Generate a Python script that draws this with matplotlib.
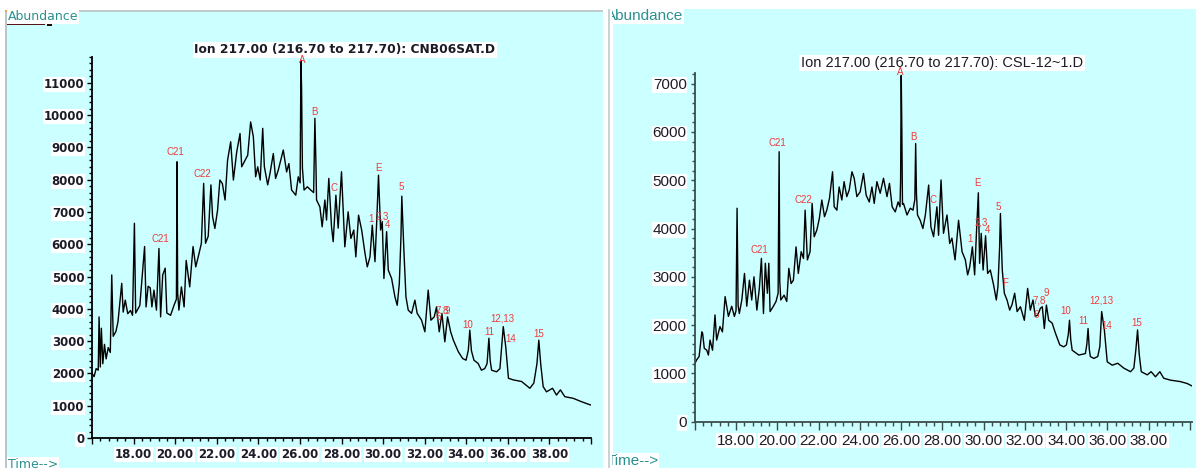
import numpy as np
import matplotlib.pyplot as plt
from matplotlib.patches import Rectangle
from matplotlib.ticker import AutoMinorLocator

W, H = 1196, 468
CYAN = '#ccffff'
TEAL = '#2a9090'
RED = '#ee3b3b'

# ---- data (time in min, abundance) ----
cnb06_points = [
    (16.00, 2000), (16.10, 1900), (16.20, 2150), (16.30, 2100), (16.34, 3750), (16.40, 2200),
    (16.45, 3400), (16.52, 2300), (16.60, 2900), (16.68, 2450), (16.78, 2800), (16.88, 2650),
    (16.95, 5050), (17.02, 3150), (17.15, 3300), (17.25, 3600), (17.43, 4790), (17.50, 3900),
    (17.60, 4270), (17.72, 3850), (17.85, 3950), (17.95, 3800), (18.04, 6650), (18.10, 3870),
    (18.30, 4100), (18.53, 5930), (18.60, 4060), (18.70, 4700), (18.80, 4650), (18.88, 4060),
    (18.98, 4580), (19.10, 3960), (19.22, 5870), (19.30, 3750), (19.40, 5050), (19.52, 5260),
    (19.60, 3870), (19.78, 3800), (19.95, 4120), (20.06, 4300), (20.09, 8555), (20.12, 4500),
    (20.18, 3960), (20.30, 4680), (20.43, 4060), (20.53, 5500), (20.70, 4680), (20.86, 5930),
    (20.99, 5300), (21.15, 5720), (21.26, 6030), (21.37, 7885), (21.46, 6030), (21.59, 6250),
    (21.72, 7840), (21.80, 6850), (21.91, 6490), (22.04, 7060), (22.15, 7990), (22.27, 7880),
    (22.40, 7370), (22.52, 8600), (22.67, 9175), (22.80, 7990), (22.96, 8860), (23.12, 9430),
    (23.20, 8400), (23.36, 8600), (23.49, 8760), (23.63, 9790), (23.76, 9330), (23.87, 8090),
    (23.97, 8400), (24.09, 7990), (24.21, 9590), (24.29, 8400), (24.45, 7840), (24.56, 8190),
    (24.72, 8810), (24.83, 8040), (24.96, 8300), (25.20, 8920), (25.36, 8240), (25.47, 8500),
    (25.60, 7680), (25.80, 7520), (25.92, 8090), (26.01, 7900), (26.05, 11700), (26.08, 10840),
    (26.12, 8360), (26.20, 7680), (26.36, 7780), (26.52, 7680), (26.66, 7600), (26.72, 9900),
    (26.77, 8500), (26.80, 7370), (26.96, 7160), (27.07, 6540), (27.20, 7370), (27.28, 6750),
    (27.39, 8040), (27.52, 6540), (27.60, 6080), (27.73, 7520), (27.84, 6500), (28.00, 8245),
    (28.16, 5920), (28.32, 7005), (28.45, 6180), (28.59, 6440), (28.69, 5610), (28.82, 6900),
    (28.97, 6440), (29.13, 5720), (29.24, 5300), (29.37, 5610), (29.48, 6590), (29.61, 5460),
    (29.69, 6650), (29.78, 8140), (29.88, 6440), (29.96, 6700), (30.04, 4940), (30.17, 6390),
    (30.25, 5200), (30.41, 4940), (30.57, 4370), (30.68, 4110), (30.78, 4780), (30.86, 6230),
    (30.90, 7490), (31.00, 5820), (31.10, 4370), (31.21, 3960), (31.37, 3860), (31.53, 4270),
    (31.64, 3860), (31.85, 3650), (32.01, 3290), (32.17, 4580), (32.30, 3650), (32.46, 3750),
    (32.57, 4060), (32.70, 3290), (32.83, 3860), (32.97, 2980), (33.10, 3750), (33.25, 3290),
    (33.38, 3030), (33.62, 2670), (33.83, 2460), (33.99, 2410), (34.10, 2720), (34.17, 3340),
    (34.25, 2700), (34.37, 2410), (34.57, 2310), (34.73, 2100), (34.89, 2150), (35.00, 2300),
    (35.09, 3090), (35.15, 2400), (35.22, 2100), (35.46, 2050), (35.62, 2150), (35.70, 2800),
    (35.78, 3450), (35.90, 2820), (36.03, 1850), (36.26, 1800), (36.66, 1750), (37.06, 1540),
    (37.25, 1700), (37.40, 2300), (37.49, 3030), (37.58, 2300), (37.70, 1590), (37.86, 1430),
    (38.15, 1540), (38.34, 1330), (38.53, 1490), (38.74, 1280), (39.14, 1230), (39.54, 1125),
    (39.99, 1020),
]

csl_points = [
    (16.00, 1210), (16.08, 1280), (16.20, 1350), (16.33, 1860), (16.37, 1830), (16.45, 1520),
    (16.57, 1480), (16.65, 1380), (16.73, 1690), (16.85, 1480), (16.97, 2210), (17.05, 1690),
    (17.21, 1970), (17.33, 1860), (17.46, 2590), (17.62, 2180), (17.78, 2390), (17.91, 2180),
    (17.99, 2300), (18.04, 4420), (18.09, 2400), (18.15, 2240), (18.27, 2520), (18.40, 3070),
    (18.51, 2390), (18.64, 2930), (18.75, 2520), (18.86, 3000), (19.00, 2310), (19.12, 2760),
    (19.22, 3380), (19.32, 2240), (19.41, 3280), (19.51, 2660), (19.58, 3280), (19.64, 2280),
    (19.80, 2390), (19.93, 2490), (20.03, 2660), (20.08, 5590), (20.11, 2900), (20.16, 2520),
    (20.32, 2620), (20.45, 2490), (20.55, 3175), (20.66, 2860), (20.77, 2930), (20.90, 3620),
    (21.01, 3070), (21.15, 3520), (21.26, 3380), (21.34, 4380), (21.45, 3350), (21.58, 3520),
    (21.68, 4520), (21.78, 3830), (21.91, 3970), (22.03, 4210), (22.15, 4590), (22.28, 4245),
    (22.39, 4380), (22.52, 4620), (22.67, 5175), (22.75, 4450), (22.88, 4380), (22.99, 4860),
    (23.12, 4590), (23.23, 4970), (23.36, 4660), (23.48, 4800), (23.61, 5175), (23.72, 5040),
    (23.85, 4660), (24.01, 4760), (24.17, 5140), (24.30, 4690), (24.45, 4550), (24.58, 4860),
    (24.69, 4520), (24.82, 4970), (24.98, 4730), (25.14, 5040), (25.31, 4660), (25.43, 4935),
    (25.56, 4450), (25.71, 4345), (25.85, 4550), (25.94, 4450), (25.97, 5000), (26.00, 7170),
    (26.03, 6040), (26.06, 4500), (26.11, 4520), (26.28, 4280), (26.44, 4420), (26.57, 4380),
    (26.66, 4600), (26.70, 5760), (26.74, 4700), (26.79, 4280), (26.92, 4170), (27.05, 4000),
    (27.17, 4280), (27.33, 4900), (27.44, 4030), (27.57, 3830), (27.73, 4450), (27.81, 3860),
    (27.93, 5005), (28.05, 3900), (28.22, 4280), (28.35, 3690), (28.46, 3800), (28.61, 3350),
    (28.78, 4170), (28.95, 3520), (29.11, 3350), (29.22, 3040), (29.32, 3200), (29.45, 3620),
    (29.56, 3040), (29.66, 4030), (29.74, 4740), (29.80, 3280), (29.88, 3900), (29.97, 3140),
    (30.09, 3850), (30.19, 3070), (30.32, 3140), (30.48, 2830), (30.61, 2520), (30.69, 2800),
    (30.77, 3600), (30.81, 4310), (30.90, 3140), (31.00, 2660), (31.13, 2520), (31.26, 2310),
    (31.37, 2420), (31.50, 2660), (31.62, 2280), (31.78, 2380), (31.97, 2100), (32.13, 2760),
    (32.26, 2310), (32.39, 2520), (32.50, 2180), (32.62, 2210), (32.75, 2350), (32.84, 2380),
    (32.94, 1930), (33.04, 2415), (33.15, 2100), (33.32, 2040), (33.48, 1830), (33.69, 1590),
    (33.88, 1550), (34.01, 1590), (34.10, 1800), (34.16, 2100), (34.22, 1700), (34.29, 1480),
    (34.61, 1380), (34.93, 1410), (35.00, 1600), (35.06, 1930), (35.12, 1500), (35.17, 1350),
    (35.34, 1310), (35.53, 1350), (35.63, 1555), (35.72, 2280), (35.85, 1900), (35.99, 1240),
    (36.23, 1170), (36.50, 1210), (36.79, 1110), (37.12, 1035), (37.28, 1110), (37.38, 1500),
    (37.46, 1900), (37.54, 1400), (37.64, 1035), (37.93, 970), (38.12, 1035), (38.33, 930),
    (38.54, 1035), (38.73, 900), (39.06, 860), (39.54, 830), (39.87, 790), (40.10, 740),
]

left_labels = ['A', 'B', 'C21', 'C22', 'C21', 'C', 'E', '5', '1', '2,3', '4',
               '6', '7,8', '9', '10', '11', '12,13', '14', '15']
left_label_t = [26.10, 26.69, 20.02, 21.32, 19.27, 27.63, 29.77, 30.86, 29.43, 29.98, 30.20,
                32.65, 32.84, 33.09, 34.09, 35.10, 35.73, 36.14, 37.50]
left_label_y = [11700, 10100, 8845, 8170, 6150, 7730, 8350, 7780, 6770, 6850, 6590,
                3755, 3960, 3930, 3500, 3290, 3705, 3065, 3210]

right_labels = ['A', 'B', 'C21', 'C22', 'C21', 'C', 'E', '5', '1', '2,3', '4', 'F',
                '6', '7,8', '9', '10', '11', '12,13', '14', '15']
right_label_t = [25.95, 26.58, 20.01, 21.26, 19.11, 27.54, 29.70, 30.69, 29.32, 29.87, 30.16, 31.05,
                 32.54, 32.67, 33.04, 33.96, 34.85, 35.69, 35.95, 37.44]
right_label_y = [7240, 5900, 5775, 4590, 3555, 4600, 4935, 4450, 3790, 4130, 3970, 2870,
                 2210, 2505, 2660, 2300, 2090, 2505, 1990, 2040]

x_ticks = list(range(16, 41, 2))
x_tick_labels = [''] + ['%.2f' % v for v in range(18, 39, 2)] + ['']
left_y_ticks = list(range(0, 11001, 1000))
right_y_ticks = list(range(0, 7001, 1000))

left_title = 'Ion 217.00 (216.70 to 217.70): CNB06SAT.D'
right_title = 'Ion 217.00 (216.70 to 217.70): CSL-12~1.D'


def fx(px):
    return px / W


def fy(py):
    return 1 - py / H


def box(px0, py0, px1, py1, color, z=0):
    r = Rectangle((fx(px0), fy(py1)), fx(px1) - fx(px0), fy(py0) - fy(py1),
                  transform=fig.transFigure, facecolor=color, edgecolor='none', zorder=z)
    fig.add_artist(r)


fig = plt.figure(figsize=(W / 100, H / 100), dpi=100, facecolor='white')

# panel backgrounds
box(7, 11, 603, 468, CYAN, z=-5)
box(613, 9, 1196, 468, CYAN, z=-5)
box(5, 11, 7, 468, '#b8c8c8', z=-4)
box(7, 10, 603, 11.5, '#c0cccc', z=-4)
box(5, 10, 50, 12, '#f0a040', z=-3)

# left axes
ax1 = fig.add_axes([fx(92), fy(438), fx(591) - fx(92), fy(57) - fy(438)])
# right axes
ax2 = fig.add_axes([fx(695), fy(421.7), fx(1192) - fx(695), fy(73) - fy(421.7)])

left_t, left_y = np.array(cnb06_points).T
right_t, right_y = np.array(csl_points).T

ax1.plot(left_t, left_y, color='black', lw=1.0)
ax2.plot(right_t, right_y, color='black', lw=1.0)

ax1.set_xlim(16, 40)
ax1.set_ylim(0, 11800)
ax2.set_xlim(16, 40.1)
ax2.set_ylim(0, 7220)

for ax, yt, spine_col, lab_font, lab_size, lab_weight in [
        (ax1, left_y_ticks, 'black', 'DejaVu Sans', 8.5, 'bold'),
        (ax2, right_y_ticks, '#3c4c4c', 'Liberation Sans', 11, 'normal')]:
    ax.set_facecolor('none')
    for s in ['top', 'right']:
        ax.spines[s].set_visible(False)
    for s in ['left', 'bottom']:
        ax.spines[s].set_color(spine_col)
        ax.spines[s].set_linewidth(1.3)
    ax.set_xticks(x_ticks)
    ax.set_xticklabels(x_tick_labels)
    ax.set_yticks(yt)
    ax.set_yticklabels([str(v) for v in yt])
    ax.xaxis.set_minor_locator(AutoMinorLocator(5))
    ax.yaxis.set_minor_locator(AutoMinorLocator(5))
    ax.tick_params(which='both', colors=spine_col, width=1.0)
    ax.tick_params(which='both', labelcolor='#1c1c28')
    for lab in ax.get_xticklabels() + ax.get_yticklabels():
        lab.set_fontfamily(lab_font)
        lab.set_fontsize(lab_size)
        lab.set_fontweight(lab_weight)
        lab.set_bbox(dict(facecolor='white', edgecolor='none', pad=0.6))

ax1.tick_params(axis='y', which='major', length=3.5, pad=2)
ax1.tick_params(axis='y', which='minor', length=2)
ax1.tick_params(axis='x', which='major', length=4, pad=3)
ax1.tick_params(axis='x', which='minor', length=2.5)
ax2.tick_params(axis='y', which='major', length=3, pad=3)
ax2.tick_params(axis='y', which='minor', length=2.5)
ax2.tick_params(axis='x', which='major', length=5.5, pad=3)
ax2.tick_params(axis='x', which='minor', length=3)

# peak labels
for name, t, y in zip(left_labels, left_label_t, left_label_y):
    ax1.text(t, y, name, color=RED, fontsize=7, family='Liberation Sans',
             ha='center', va='center', zorder=5)
for name, t, y in zip(right_labels, right_label_t, right_label_y):
    ax2.text(t, y, name, color=RED, fontsize=7, family='Liberation Sans',
             ha='center', va='center', zorder=5)

# titles sit under the axes so the peak labels stay visible
wbox = dict(facecolor='white', edgecolor='none', pad=1)
fig.text(fx(345), fy(50), left_title, fontsize=8.8, family='DejaVu Sans', fontweight='bold',
         color='#1c1c28', ha='center', va='center', bbox=wbox, zorder=-1)
fig.text(fx(942), fy(63), right_title, fontsize=10.5, family='Liberation Sans',
         color='#1c1c28', ha='center', va='center', bbox=wbox, zorder=-1)

# Abundance / Time labels
fig.text(fx(8), fy(17), 'Abundance', fontsize=9, family='DejaVu Sans', color=TEAL,
         ha='left', va='center', bbox=dict(facecolor='white', edgecolor='none', pad=0.5))
box(7, 22.5, 45, 25, '#5a1414', z=3)
box(47, 22, 52, 26, '#200808', z=3)
fig.text(fx(8), fy(464), 'Time-->', fontsize=9, family='DejaVu Sans', color=TEAL,
         ha='left', va='center', bbox=dict(facecolor='white', edgecolor='none', pad=0.5))

fig.text(fx(605.5), fy(16), 'Abundance', fontsize=11, family='Liberation Sans', color=TEAL,
         ha='left', va='center', zorder=2,
         bbox=dict(facecolor='white', edgecolor='none', pad=0.5))
fig.text(fx(606.5), fy(461), 'Time-->', fontsize=11, family='Liberation Sans', color=TEAL,
         ha='left', va='center', zorder=2,
         bbox=dict(facecolor='white', edgecolor='none', pad=0.5))
# white strip between the panels hides the first letters on the right
box(603, 0, 612, 468, 'white', z=4)
box(608, 9, 610, 468, '#c8d4d4', z=5)

fig.savefig('out.png', dpi=100, facecolor='white')
